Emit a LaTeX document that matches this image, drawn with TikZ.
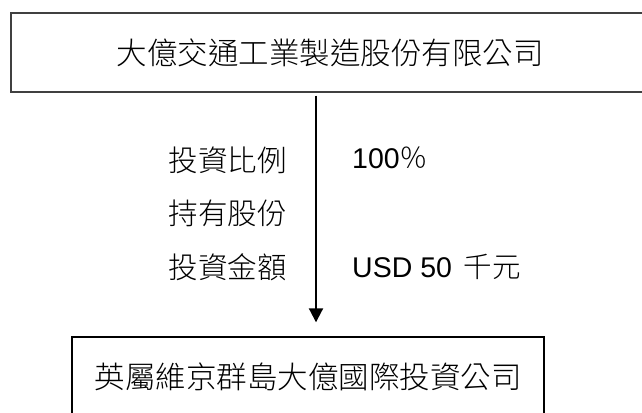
\documentclass[tikz,border=0pt]{standalone}
\usepackage{fontspec}
\setmainfont{Liberation Sans}
\newfontfamily\cjk{Noto Sans CJK TC Light}
\usetikzlibrary{arrows.meta}
\tikzset{
  firm/.style={draw,line width=1.4pt,inner sep=0pt,font=\cjk\fontsize{30.5}{32}\selectfont},
  item/.style={inner sep=0pt,anchor=east,font=\cjk\fontsize{29.5}{31}\selectfont},
  value/.style={inner sep=0pt,anchor=west,font=\fontsize{28.5}{30}\selectfont},
}

\begin{document}
\begin{tikzpicture}[x=1pt,y=-1pt]
    \clip (0,0) rectangle (642,412);
    % companies
    \node[firm,draw=black!75,minimum width=638pt,minimum height=79pt] (parent) at (330,52.5) {大億交通工業製造股份有限公司};
    \node[firm,minimum width=472pt,minimum height=80pt] (subsid) at (308,377) {英屬維京群島大億國際投資公司};
    \coordinate (stem) at (316,0);
    \draw[line width=2pt,-{Triangle[width=14pt,length=14pt]},shorten <=3pt,shorten >=14pt]
        (parent.south -| stem) -- (subsid.north -| stem);
    % investment details
    \node[item] (ratio) at (287,160) {投資比例};
    \node[item] (shares) at (287,213) {持有股份};
    \node[item] (amount) at (287,267) {投資金額};
    \node[value] (ratioval) at (352,158) {100{\cjk ％}};
    \node[value] (amountval) at (352,267) {USD 50\hspace{4pt} {\cjk 千元}};
\end{tikzpicture}
\end{document}
